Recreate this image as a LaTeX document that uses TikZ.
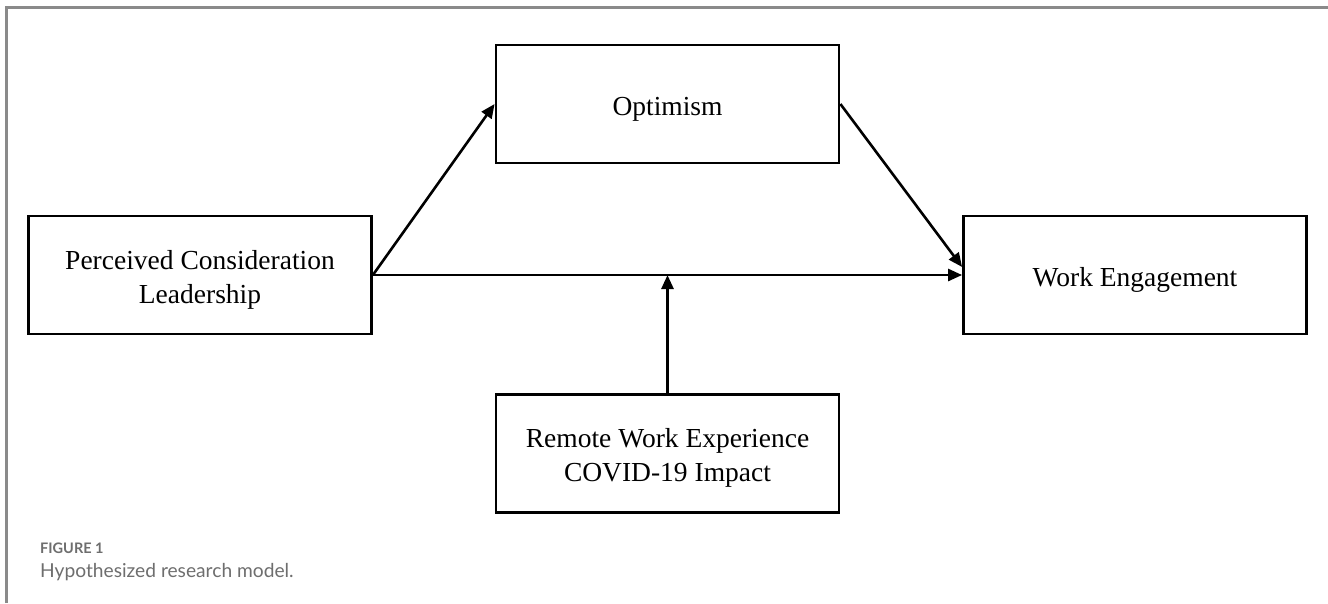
\documentclass[tikz,border=0pt]{standalone}
\usepackage{fontspec}
\setmainfont{Liberation Serif}
\newfontfamily\capfont{Lato}
\usetikzlibrary{arrows.meta,calc}
\definecolor{framegray}{HTML}{8A8A8A}
\definecolor{capgray}{HTML}{6E6E6E}
\newcommand{\boxtext}[1]{\raisebox{-4.5pt}[\height][\depth]{\begin{tabular}{@{}c@{}}#1\end{tabular}}}
\begin{document}
\begin{tikzpicture}[x=1pt,y=-1pt,
  varbox/.style={draw=black,line width=2.8pt,minimum width=343pt,minimum height=118pt,
    align=center,inner sep=0pt,font=\fontsize{27.5}{34}\selectfont},
  conn/.style={line width=2.6pt,-{Triangle[length=14pt,width=12pt]}}]
\useasboundingbox (0,0) rectangle (1328,603);
\fill[white] (0,0) rectangle (1328,603);
\draw[framegray,line width=2.2pt] (6.5,603) -- (6.5,7.5) -- (1328,7.5);

\node[varbox] (P) at (200,275) {\boxtext{Perceived Consideration\\Leadership}};
\node[varbox] (O) at (667.5,104) {\boxtext{Optimism}};
\node[varbox] (W) at (1135,275) {\boxtext{Work Engagement}};
\node[varbox] (R) at (667.5,453.5) {\boxtext{Remote Work Experience\\COVID-19 Impact}};

\coordinate (Wt) at ($(W.west)+(0,-8)$);
\coordinate (J) at (R.north |- P.east);

\draw[conn] (P.east) -- (O.west);
\draw[conn] (O.east) -- (Wt);
\draw[conn] (P.east) -- (W.west);
\draw[conn] (R.north) -- (J);

\node[anchor=base west,inner sep=0pt,text=capgray,font=\capfont\bfseries\fontsize{14.5}{16}\selectfont] (F) at (40,553) {FIGURE 1};
\node[anchor=base west,inner sep=0pt,text=capgray,font=\capfont\fontsize{19.2}{22}\selectfont] (C) at (40,577) {Hypothesized research model.};
\end{tikzpicture}
\end{document}
